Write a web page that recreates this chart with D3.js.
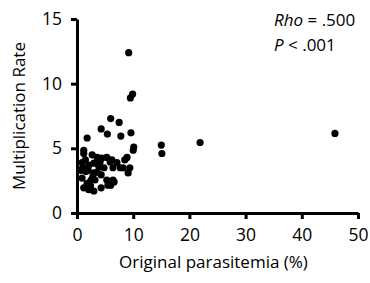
<!DOCTYPE html>
<html lang="en">
<head>
    <meta charset="UTF-8"/>
    <script src="https://d3js.org/d3.v7.min.js"></script>
    <style>
        body { margin: 0; background: #fff; }
        text { font-family: "Open Sans", sans-serif; fill: #000; }
    </style>
</head>
<body>
<div id="chart"></div>
<script>
    // parasitemia (%) vs multiplication rate
    const parasitemia = [9.2, 9.9, 9.5, 6.0, 7.5, 4.3, 5.4, 9.6, 7.8, 1.8, 10.1, 15.0, 15.1, 21.9, 45.9, 1.2,
        1.2, 2.7, 3.6, 4.4, 5.3, 6.2, 7.1, 0.9, 2.1, 3.0, 3.9, 4.8, 1.6, 3.0, 4.3, 5.3, 6.6, 6.0, 4.3,
        2.5, 1.8, 1.2, 2.1, 3.0, 0.9, 0.7, 8.9, 8.5, 8.2, 9.4, 9.1, 10.0, 5.9, 4.1, 3.2, 2.8, 6.4, 5.5,
        2.0, 3.6, 6.4, 7.7, 1.5, 1.0, 2.4];
    const multiplication = [12.4, 9.2, 8.9, 7.3, 7.0, 6.5, 6.1, 6.2, 5.95, 5.8, 5.1, 5.25, 4.6, 5.45, 6.15, 4.85,
        4.6, 4.5, 4.3, 4.25, 4.3, 4.1, 3.9, 3.9, 3.7, 3.85, 3.55, 3.5, 3.2, 3.1, 2.95, 2.55, 2.4, 2.15, 1.95,
        2.55, 2.3, 1.95, 1.8, 1.7, 2.7, 3.3, 4.3, 4.1, 3.5, 3.5, 3.1, 4.85, 3.95, 3.95, 2.55, 2.8, 2.55, 2.15,
        3.3, 3.15, 3.5, 3.5, 4.1, 3.5, 2.1];
    const xTicks = [0, 10, 20, 30, 40, 50];
    const yTicks = [0, 5, 10, 15];

    const width = 370, height = 283;
    const margin = {top: 19, right: 12, bottom: 70, left: 77};

    const svg = d3.select("#chart").append("svg")
        .attr("width", width)
        .attr("height", height);

    const x = d3.scaleLinear().domain([0, 50]).range([margin.left, width - margin.right]);
    const y = d3.scaleLinear().domain([0, 15]).range([height - margin.bottom, margin.top]);

    // X axis
    const gx = svg.append("g")
        .attr("transform", `translate(0, ${y(0)})`)
        .call(d3.axisBottom(x).tickValues(xTicks).tickSize(6).tickPadding(10).tickSizeOuter(0));
    // Y axis
    const gy = svg.append("g")
        .attr("transform", `translate(${x(0)}, 0)`)
        .call(d3.axisLeft(y).tickValues(yTicks).tickSize(6).tickPadding(9).tickSizeOuter(0));

    [gx, gy].forEach(g => {
        g.select(".domain").attr("stroke", "#000").attr("stroke-width", 3);
        g.selectAll(".tick line").attr("stroke", "#000").attr("stroke-width", 3);
        g.selectAll(".tick text").style("font-family", "Open Sans, sans-serif").style("font-size", "17.5px");
    });

    // Dots
    svg.append("g")
        .selectAll("circle")
        .data(parasitemia.map((p, i) => [p, multiplication[i]]))
        .join("circle")
        .attr("cx", d => x(d[0]))
        .attr("cy", d => y(d[1]))
        .attr("r", 3.6)
        .attr("fill", "#000");

    // Axis titles
    svg.append("text")
        .attr("x", (x(0) + x(50)) / 2 - 4)
        .attr("y", 268)
        .attr("text-anchor", "middle")
        .style("font-size", "17px")
        .text("Original parasitemia (%)");

    svg.append("text")
        .attr("transform", `translate(25, ${(y(0) + y(15)) / 2}) rotate(-90)`)
        .attr("text-anchor", "middle")
        .style("font-size", "17px")
        .text("Multiplication Rate");

    // Stats
    const stats = svg.append("g").style("font-size", "17px");
    const t1 = stats.append("text").attr("x", 274).attr("y", 26);
    t1.append("tspan").style("font-style", "italic").text("Rho");
    t1.append("tspan").text(" = .500");
    const t2 = stats.append("text").attr("x", 274).attr("y", 51);
    t2.append("tspan").style("font-style", "italic").text("P");
    t2.append("tspan").text(" < .001");
</script>
</body>
</html>
